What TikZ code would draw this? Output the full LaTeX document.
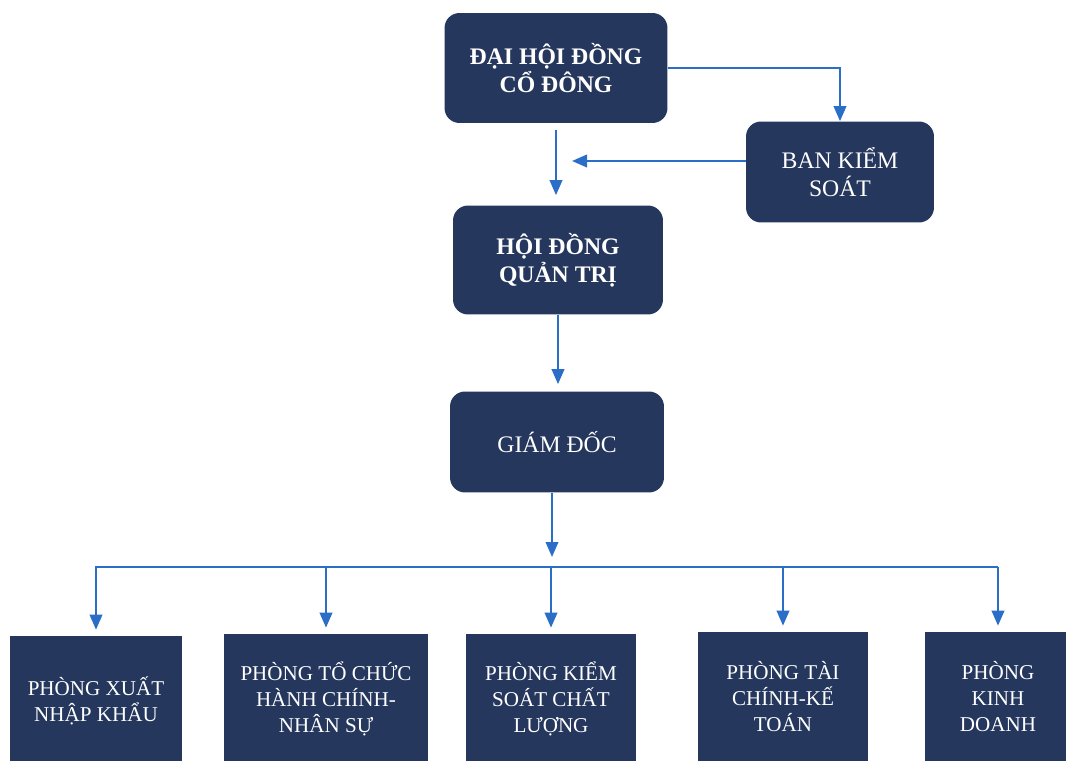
\documentclass[tikz,border=0pt]{standalone}
\usepackage{fontspec}
\setmainfont{Liberation Serif}
\usepackage{tikz}
\usetikzlibrary{arrows.meta}
\definecolor{boxnavy}{RGB}{37,55,93}
\definecolor{linkblue}{RGB}{42,110,200}

\begin{document}
\begin{tikzpicture}[x=0.02cm, y=-0.02cm,
  topbox/.style={fill=boxnavy, rounded corners=0.3cm, text=white, align=center, font=\fontsize{13.5}{16}\selectfont},
  dept/.style={fill=boxnavy, text=white, align=center, minimum height=2.6cm, font=\fontsize{12}{14.8}\selectfont},
  link/.style={linkblue, line width=1.2pt, -{Triangle[length=0.3cm, width=0.25cm]}},
  bus/.style={linkblue, line width=1.2pt}]
\useasboundingbox[fill=white] (0,0) rectangle (1066,761);
\clip (0,0) rectangle (1066,761);

% Top level
\node[topbox, minimum width=4.46cm, minimum height=2.2cm] (dhdcd) at (556,68) {\textbf{ĐẠI HỘI ĐỒNG}\\\textbf{CỔ ĐÔNG}};
\node[topbox, minimum width=3.76cm, minimum height=2.02cm] (bks) at (840,172) {BAN KIỂM\\SOÁT};
\node[topbox, minimum width=4.2cm, minimum height=2.18cm] (hdqt) at (558,260) {\textbf{HỘI ĐỒNG}\\\textbf{QUẢN TRỊ}};
\node[topbox, minimum width=4.28cm, minimum height=2.02cm] (gd) at (557,442) {GIÁM ĐỐC};

% Departments
\node[dept, minimum width=3.46cm] (p1) at (96,701) {PHÒNG XUẤT\\NHẬP KHẨU};
\node[dept, minimum width=4.08cm] (p2) at (326,699) {PHÒNG TỔ CHỨC\\HÀNH CHÍNH-\\NHÂN SỰ};
\node[dept, minimum width=3.4cm] (p3) at (551,699) {PHÒNG KIỂM\\SOÁT CHẤT\\LƯỢNG};
\node[dept, minimum width=3.4cm] (p4) at (783,697) {PHÒNG TÀI\\CHÍNH-KẾ\\TOÁN};
\node[dept, minimum width=2.92cm] (p5) at (998,697) {PHÒNG\\KINH\\DOANH};

% Free ends
\coordinate (tip) at (572,161);
\coordinate (split) at (552,557);
\coordinate (busL) at (95,567);
\coordinate (busR) at (998,567);

% Connectors
\draw[link] (dhdcd.east) -| (bks.north);
\draw[link, shorten <=0.14cm, shorten >=0.2cm] (dhdcd.south) -- (dhdcd.south |- hdqt.north);
\draw[link] (bks.west |- tip) -- (tip);
\draw[link, shorten >=0.14cm] (hdqt.south) -- (hdqt.south |- gd.north);
\draw[link] (gd.south -| split) -- (split);
\draw[bus] (busL) -- (busR);
\foreach \p in {p1,p2,p3,p4,p5}
  \draw[link, shorten >=0.12cm] (\p.north |- busL) -- (\p.north);
\end{tikzpicture}
\end{document}
